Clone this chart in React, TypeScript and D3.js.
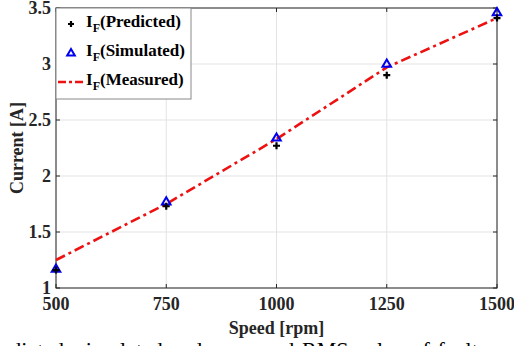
import * as d3 from 'd3';

const speeds = [500, 750, 1000, 1250, 1500];
const predicted = [1.16, 1.73, 2.27, 2.9, 3.41];
const simulated = [1.17, 1.77, 2.34, 3.0, 3.46];
const measured = [1.25, 1.75, 2.33, 2.97, 3.41];
const xTicks = [500, 750, 1000, 1250, 1500];
const yTicks = [1, 1.5, 2, 2.5, 3, 3.5];

export default function App() {
  const width = 514;
  const height = 346;
  const margin = { top: 8, right: 17, bottom: 58, left: 56 };
  const font = '"Liberation Serif", "Times New Roman", serif';

  const x = d3.scaleLinear().domain([500, 1500]).range([margin.left, width - margin.right]);
  const y = d3.scaleLinear().domain([1, 3.5]).range([height - margin.bottom, margin.top]);

  const line = d3
    .line<number>()
    .x((_, i) => x(speeds[i]))
    .y((d) => y(d));

  const plus = (cx: number, cy: number, s: number) =>
    `M${cx - s},${cy}H${cx + s}M${cx},${cy - s}V${cy + s}`;
  const tri = (cx: number, cy: number, s: number) =>
    `M${cx},${cy - s}L${cx + s * 0.95},${cy + s * 0.6}L${cx - s * 0.95},${cy + s * 0.6}Z`;

  const x0 = margin.left;
  const x1 = width - margin.right;
  const y0 = height - margin.bottom;
  const y1 = margin.top;

  return (
    <svg
      width={width}
      height={height}
      style={{ position: 'absolute', left: 0, top: 0, background: '#fff', fontFamily: font }}
    >
      {/* grid */}
      {xTicks.map((t) => (
        <line key={'gx' + t} x1={x(t)} x2={x(t)} y1={y1} y2={y0} stroke="#e3e3e3" strokeWidth={1} />
      ))}
      {yTicks.map((t) => (
        <line key={'gy' + t} x1={x0} x2={x1} y1={y(t)} y2={y(t)} stroke="#e3e3e3" strokeWidth={1} />
      ))}

      {/* ticks inward */}
      {xTicks.map((t) => (
        <g key={'tx' + t}>
          <line x1={x(t)} x2={x(t)} y1={y0} y2={y0 - 4} stroke="#262626" />
          <line x1={x(t)} x2={x(t)} y1={y1} y2={y1 + 4} stroke="#262626" />
          <text
            x={x(t)}
            y={y0 + 22}
            textAnchor="middle"
            fontSize={18}
            fontWeight="bold"
            fill="#262626"
          >
            {t}
          </text>
        </g>
      ))}
      {yTicks.map((t) => (
        <g key={'ty' + t}>
          <line x1={x0} x2={x0 + 4} y1={y(t)} y2={y(t)} stroke="#262626" />
          <line x1={x1} x2={x1 - 4} y1={y(t)} y2={y(t)} stroke="#262626" />
          <text
            x={x0 - 5}
            y={y(t) + 6}
            textAnchor="end"
            fontSize={18}
            fontWeight="bold"
            fill="#262626"
          >
            {t}
          </text>
        </g>
      ))}

      {/* box */}
      <rect x={x0} y={y1} width={x1 - x0} height={y0 - y1} fill="none" stroke="#262626" strokeWidth={1} />

      {/* measured line */}
      <path
        d={line(measured) ?? ''}
        fill="none"
        stroke="#ee1111"
        strokeWidth={2.6}
        strokeDasharray="10 4 3 4"
      />

      {/* simulated triangles */}
      {simulated.map((v, i) => (
        <path key={'s' + i} d={tri(x(speeds[i]), y(v), 4.5)} fill="none" stroke="#0000ee" strokeWidth={2} />
      ))}

      {/* predicted plus */}
      {predicted.map((v, i) => (
        <path key={'p' + i} d={plus(x(speeds[i]), y(v), 3.5)} stroke="#000" strokeWidth={2.2} />
      ))}

      {/* axis labels */}
      <text x={x(1000)} y={y0 + 46} textAnchor="middle" fontSize={18} fontWeight="bold" fill="#262626">
        Speed [rpm]
      </text>
      <text
        transform={`translate(23,${(y0 + y1) / 2}) rotate(-90)`}
        textAnchor="middle"
        fontSize={18}
        fontWeight="bold"
        fill="#262626"
      >
        Current [A]
      </text>

      {/* legend */}
      <g>
        <rect x={56} y={8} width={135} height={91} fill="#fff" stroke="#888" strokeWidth={1} />
        <path d={plus(71, 24, 3)} stroke="#000" strokeWidth={2.2} />
        <path d={tri(71, 53, 4)} fill="none" stroke="#0000ee" strokeWidth={2} />
        <line x1={58} x2={84} y1={82} y2={82} stroke="#ee1111" strokeWidth={2.6} strokeDasharray="8 3 3 3" />
        {[
          { y: 27, label: '(Predicted)' },
          { y: 56, label: '(Simulated)' },
          { y: 85, label: '(Measured)' },
        ].map((l) => (
          <text key={l.label} x={86} y={l.y} fontSize={17} fontWeight="bold" fill="#000">
            I<tspan fontSize={12} dy={5}>F</tspan>
            <tspan dy={-5}>{l.label}</tspan>
          </text>
        ))}
      </g>

      {/* cropped caption */}
      <text x={-19} y={357} fontSize={22} wordSpacing={2.2} fill="#000">
        Predicted, simulated and measured RMS value of fault current
      </text>
    </svg>
  );
}
